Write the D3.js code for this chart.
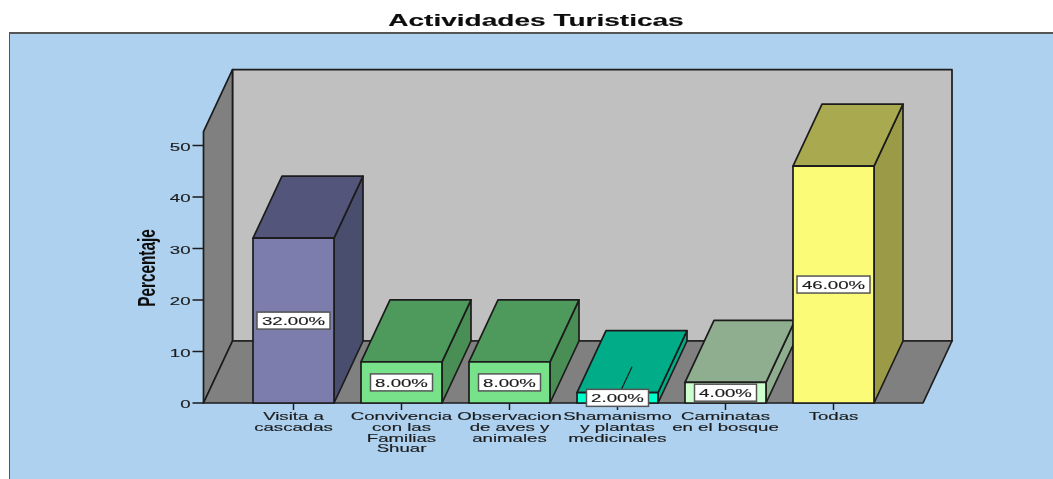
<!DOCTYPE html>
<html><head><meta charset="utf-8">
<script src="https://cdn.jsdelivr.net/npm/d3@7/dist/d3.min.js"></script>
<style>html,body{margin:0;padding:0;background:#fff}svg{display:block}text{font-family:"Liberation Sans",Arial,sans-serif}</style>
</head><body><svg id="c" width="1053" height="479"></svg>
<script>
const categories = [
  ["Visita a","cascadas"],
  ["Convivencia","con las","Familias","Shuar"],
  ["Observacion","de aves y","animales"],
  ["Shamanismo","y plantas","medicinales"],
  ["Caminatas","en el bosque"],
  ["Todas"]
];
const values = [32, 8, 8, 2, 4, 46];
const yTicks = [0, 10, 20, 30, 40, 50];
const yMax = 52.7;
const frontColors = ["#7b7bad","#78e28a","#78e28a","#00ffcc","#ccffcc","#fbfb77"];
const topColors   = ["#52567a","#4d9a5c","#4d9a5c","#00ad88","#8fad8f","#a9a94f"];
const sideColors  = ["#4a4d6e","#488f54","#488f54","#00ad88","#8fad8f","#9b9b47"];

const ink = "#1c1c1c", stretch = 1.62, fs = 11.5;
const dx = 29, dy = 62;
const svg = d3.select("#c");
const defs = svg.append("defs");
defs.append("filter").attr("id","soft").attr("x",0).attr("y",0).attr("width","100%").attr("height","100%")
  .append("feGaussianBlur").attr("stdDeviation",0.5);
const g = svg.append("g").attr("filter","url(#soft)");

const x = d3.scaleBand().domain(d3.range(categories.length)).range([239.5,887.5]).paddingInner(0.25).paddingOuter(0.125);
const y = d3.scaleLinear().domain([0,yMax]).range([403,131.6]);
const left = 203.5, right = 923;

const poly = (pts, fill, parent=g) => parent.append("polygon")
  .attr("points", pts.map(p=>p.join(",")).join(" "))
  .attr("fill",fill).attr("stroke",ink).attr("stroke-width",1.7).attr("stroke-linejoin","round");
const label = (parent, px, py, str, o={}) => parent.append("text")
  .attr("transform",`translate(${px},${py}) scale(${o.sx||stretch},1)`)
  .attr("text-anchor",o.anchor||"middle")
  .attr("font-size",o.size||fs).attr("font-weight",o.weight||"normal")
  .attr("fill",o.fill||"#1c1c1c").attr("stroke",o.fill||"#1c1c1c").attr("stroke-width",0.15).text(str);

// page frame and title
g.append("rect").attr("x",9).attr("y",33).attr("width",1060).attr("height",460)
  .attr("fill","#add1ef").attr("stroke","#555").attr("stroke-width",2);
label(g, 536, 25.5, "Actividades Turisticas", {size:17.2, weight:"bold", sx:1.63, fill:"#111"});

// 3-D room
const y0 = y(0), yT = y(yMax);
poly([[left+dx,yT-dy],[right+dx,yT-dy],[right+dx,y0-dy],[left+dx,y0-dy]],"#c0c0c0");
poly([[left,y0],[left+dx,y0-dy],[left+dx,yT-dy],[left,yT]],"#808080");
poly([[left,y0],[right,y0],[right+dx,y0-dy],[left+dx,y0-dy]],"#808080");

// y axis
const yAxis = g.append("g");
yTicks.forEach(t=>{
  yAxis.append("line").attr("x1",left-11).attr("x2",left).attr("y1",y(t)).attr("y2",y(t)).attr("stroke",ink).attr("stroke-width",1.5);
  label(yAxis, left-13, y(t)+5, t, {anchor:"end"});
});
g.append("text").attr("transform","translate(155,268) rotate(-90) scale(0.64,1)")
  .attr("text-anchor","middle").attr("font-size",24).attr("font-weight","bold").attr("fill","#111").text("Percentaje");

// bars
values.forEach((v,i)=>{
  const a = x(i), b = a + x.bandwidth(), t = y(v);
  poly([[b,y0],[b+dx,y0-dy],[b+dx,t-dy],[b,t]], sideColors[i]);
  poly([[a,t],[b,t],[b+dx,t-dy],[a+dx,t-dy]], topColors[i]);
  poly([[a,y0],[b,y0],[b,t],[a,t]], frontColors[i]);
});

// ticks and category labels
categories.forEach((lines,i)=>{
  const c = x(i)+x.bandwidth()/2;
  g.append("line").attr("x1",c).attr("x2",c).attr("y1",y0).attr("y2",y0+7).attr("stroke",ink).attr("stroke-width",1.5);
  lines.forEach((s,j)=>label(g,c,y0+17+j*10.8,s));
});

// value labels
const fmt = v => v.toFixed(2)+"%";
values.forEach((v,i)=>{
  const c = x(i)+x.bandwidth()/2, m = (y(v)+y0)/2;
  if (v < 3) g.append("line").attr("x1",c).attr("y1",m).attr("x2",c+dx/2).attr("y2",y(v)-dy*0.42).attr("stroke",ink).attr("stroke-width",1.2);
  const w = fmt(v).length>5 ? 73 : 62;
  g.append("rect").attr("x",c-w/2).attr("y",m-8.5).attr("width",w).attr("height",17)
    .attr("fill","#fff").attr("stroke","#555").attr("stroke-width",1.5);
  label(g,c,m+4.4,fmt(v));
});
</script></body></html>
